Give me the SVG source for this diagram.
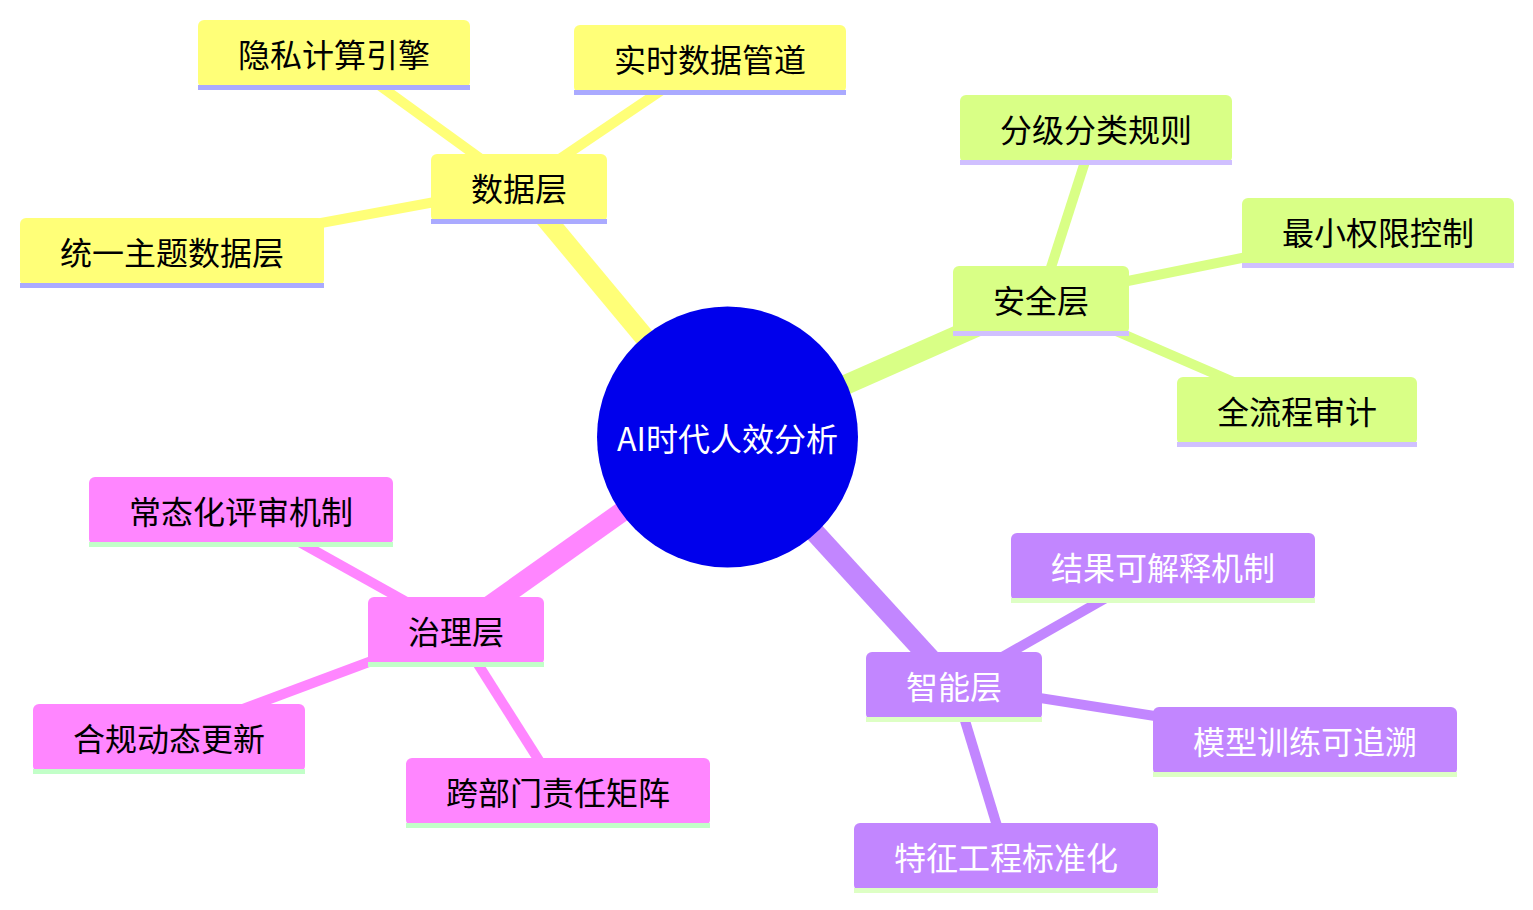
<svg xmlns="http://www.w3.org/2000/svg" width="1533" height="910" viewBox="0 0 1533 910">
<style>
text{font-family:"Noto Sans CJK SC","Noto Sans",sans-serif;font-size:32px;text-anchor:middle;dominant-baseline:central}
.s1 rect.b{fill:#ffff78}.s1 rect.u{fill:#aaaaff}.s1 text{fill:#000}
.s2 rect.b{fill:#d9ff86}.s2 rect.u{fill:#d0c0ff}.s2 text{fill:#000}
.s3 rect.b{fill:#c286ff}.s3 rect.u{fill:#ddffc4}.s3 text{fill:#fff}
.s4 rect.b{fill:#ff86ff}.s4 rect.u{fill:#c2ffc8}.s4 text{fill:#000}
.e{fill:none;stroke-linecap:butt}
.e1{stroke-width:20}.e2{stroke-width:10}
.c1{stroke:#ffff78}.c2{stroke:#d9ff86}.c3{stroke:#c286ff}.c4{stroke:#ff86ff}
</style>
<g id="connectors">
<line class="e e1 c1" x1="727.5" y1="437" x2="519" y2="186.5"/>
<line class="e e2 c1" x1="519" y1="186.5" x2="334" y2="52.5"/>
<line class="e e2 c1" x1="519" y1="186.5" x2="710" y2="57.5"/>
<line class="e e2 c1" x1="519" y1="186.5" x2="172" y2="250.5"/>
<line class="e e1 c2" x1="727.5" y1="437" x2="1041" y2="298.5"/>
<line class="e e2 c2" x1="1041" y1="298.5" x2="1096" y2="127.5"/>
<line class="e e2 c2" x1="1041" y1="298.5" x2="1378" y2="230.5"/>
<line class="e e2 c2" x1="1041" y1="298.5" x2="1297" y2="409.5"/>
<line class="e e1 c3" x1="727.5" y1="437" x2="954" y2="684.5"/>
<line class="e e2 c3" x1="954" y1="684.5" x2="1163" y2="565.5"/>
<line class="e e2 c3" x1="954" y1="684.5" x2="1305" y2="739.5"/>
<line class="e e2 c3" x1="954" y1="684.5" x2="1006" y2="855.5"/>
<line class="e e1 c4" x1="727.5" y1="437" x2="456" y2="629.5"/>
<line class="e e2 c4" x1="456" y1="629.5" x2="241" y2="509.5"/>
<line class="e e2 c4" x1="456" y1="629.5" x2="169" y2="736.5"/>
<line class="e e2 c4" x1="456" y1="629.5" x2="558" y2="790.5"/>
</g>
<g id="root">
<circle cx="727.5" cy="437" r="130.5" fill="#0000ec"/>
<text x="727.5" y="437" fill="#fff">AI时代人效分析</text>
</g>
<g id="n-data" class="s1"><rect class="b" x="431" y="154" width="176" height="68" rx="6"/><rect class="u" x="431" y="219" width="176" height="5"/><text x="519" y="186.5">数据层</text></g>
<g id="n-privacy" class="s1"><rect class="b" x="198" y="20" width="272" height="68" rx="6"/><rect class="u" x="198" y="85" width="272" height="5"/><text x="334" y="52.5">隐私计算引擎</text></g>
<g id="n-realtime" class="s1"><rect class="b" x="574" y="25" width="272" height="68" rx="6"/><rect class="u" x="574" y="90" width="272" height="5"/><text x="710" y="57.5">实时数据管道</text></g>
<g id="n-unified" class="s1"><rect class="b" x="20" y="218" width="304" height="68" rx="6"/><rect class="u" x="20" y="283" width="304" height="5"/><text x="172" y="250.5">统一主题数据层</text></g>
<g id="n-security" class="s2"><rect class="b" x="953" y="266" width="176" height="68" rx="6"/><rect class="u" x="953" y="331" width="176" height="5"/><text x="1041" y="298.5">安全层</text></g>
<g id="n-classify" class="s2"><rect class="b" x="960" y="95" width="272" height="68" rx="6"/><rect class="u" x="960" y="160" width="272" height="5"/><text x="1096" y="127.5">分级分类规则</text></g>
<g id="n-least" class="s2"><rect class="b" x="1242" y="198" width="272" height="68" rx="6"/><rect class="u" x="1242" y="263" width="272" height="5"/><text x="1378" y="230.5">最小权限控制</text></g>
<g id="n-audit" class="s2"><rect class="b" x="1177" y="377" width="240" height="68" rx="6"/><rect class="u" x="1177" y="442" width="240" height="5"/><text x="1297" y="409.5">全流程审计</text></g>
<g id="n-intel" class="s3"><rect class="b" x="866" y="652" width="176" height="68" rx="6"/><rect class="u" x="866" y="717" width="176" height="5"/><text x="954" y="684.5">智能层</text></g>
<g id="n-explain" class="s3"><rect class="b" x="1011" y="533" width="304" height="68" rx="6"/><rect class="u" x="1011" y="598" width="304" height="5"/><text x="1163" y="565.5">结果可解释机制</text></g>
<g id="n-trace" class="s3"><rect class="b" x="1153" y="707" width="304" height="68" rx="6"/><rect class="u" x="1153" y="772" width="304" height="5"/><text x="1305" y="739.5">模型训练可追溯</text></g>
<g id="n-feature" class="s3"><rect class="b" x="854" y="823" width="304" height="68" rx="6"/><rect class="u" x="854" y="888" width="304" height="5"/><text x="1006" y="855.5">特征工程标准化</text></g>
<g id="n-gov" class="s4"><rect class="b" x="368" y="597" width="176" height="68" rx="6"/><rect class="u" x="368" y="662" width="176" height="5"/><text x="456" y="629.5">治理层</text></g>
<g id="n-review" class="s4"><rect class="b" x="89" y="477" width="304" height="68" rx="6"/><rect class="u" x="89" y="542" width="304" height="5"/><text x="241" y="509.5">常态化评审机制</text></g>
<g id="n-comply" class="s4"><rect class="b" x="33" y="704" width="272" height="68" rx="6"/><rect class="u" x="33" y="769" width="272" height="5"/><text x="169" y="736.5">合规动态更新</text></g>
<g id="n-matrix" class="s4"><rect class="b" x="406" y="758" width="304" height="68" rx="6"/><rect class="u" x="406" y="823" width="304" height="5"/><text x="558" y="790.5">跨部门责任矩阵</text></g>
</svg>
